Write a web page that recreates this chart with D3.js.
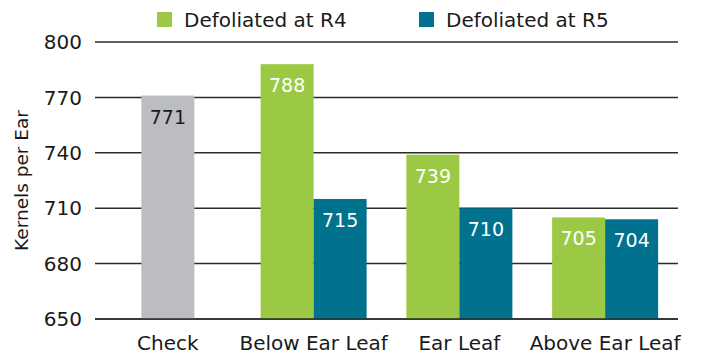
<!DOCTYPE html>
<html>
<head>
<meta charset="utf-8">
<script src="https://cdn.jsdelivr.net/npm/d3@7"></script>
<style>
  html, body { margin: 0; padding: 0; background: #fff; }
  svg { display: block; font-family: "DejaVu Sans", sans-serif; }
</style>
</head>
<body>
<svg id="chart" width="702" height="356"></svg>
<script>
// Kernels per ear by defoliation treatment
const categories = ["Check", "Below Ear Leaf", "Ear Leaf", "Above Ear Leaf"];
const seriesNames = ["Defoliated at R4", "Defoliated at R5"];
const checkValue = 771;
const r4Values = [null, 788, 739, 705];
const r5Values = [null, 715, 710, 704];
const yTicks = [650, 680, 710, 740, 770, 800];

const colors = { check: "#bcbdc0", r4: "#9bc944", r5: "#00728e" };
const textColor = "#1a1a1a";

const svg = d3.select("#chart");
const margin = { top: 42, right: 24, bottom: 37, left: 95 };
const width = 702 - margin.left - margin.right;
const height = 356 - margin.top - margin.bottom;

const g = svg.append("g").attr("transform", `translate(${margin.left},${margin.top})`);

const x = d3.scaleBand().domain(categories).range([0, width]).paddingInner(0).paddingOuter(0);
const y = d3.scaleLinear().domain([650, 800]).range([height, 0]);
const barW = 53;

// gridlines
g.selectAll(".grid").data(yTicks).join("line")
  .attr("x1", 0).attr("x2", width)
  .attr("y1", d => y(d)).attr("y2", d => y(d))
  .attr("stroke", "#2b2b2b").attr("stroke-width", 1.5);

// y tick labels
g.selectAll(".ytick").data(yTicks).join("text")
  .attr("x", -13).attr("y", d => y(d)).attr("dy", "0.36em")
  .attr("text-anchor", "end").attr("font-size", 20).attr("fill", textColor)
  .text(d => d);

// bar records: single check bar, then R4/R5 pairs
const bars = [];
categories.forEach((c, i) => {
  const cx = x(c) + x.bandwidth() / 2;
  if (i === 0) {
    bars.push({ x: cx - barW / 2, v: checkValue, color: colors.check, text: textColor });
  } else {
    bars.push({ x: cx - barW, v: r4Values[i], color: colors.r4, text: "#fff" });
    bars.push({ x: cx, v: r5Values[i], color: colors.r5, text: "#fff" });
  }
});

g.selectAll(".bar").data(bars).join("rect")
  .attr("x", d => d.x).attr("width", barW)
  .attr("y", d => y(d.v)).attr("height", d => y(650) - y(d.v))
  .attr("fill", d => d.color);

g.selectAll(".val").data(bars).join("text")
  .attr("x", d => d.x + barW / 2).attr("y", d => y(d.v) + 28)
  .attr("text-anchor", "middle").attr("font-size", 19)
  .attr("fill", d => d.text)
  .text(d => d.v);

// baseline
g.append("line").attr("x1", 0).attr("x2", width)
  .attr("y1", y(650)).attr("y2", y(650))
  .attr("stroke", "#2b2b2b").attr("stroke-width", 1.5);

// category labels
g.selectAll(".cat").data(categories).join("text")
  .attr("x", d => x(d) + x.bandwidth() / 2).attr("y", height + 31)
  .attr("text-anchor", "middle").attr("font-size", 20).attr("fill", textColor)
  .text(d => d);

// y axis title
svg.append("text")
  .attr("transform", `translate(28,${margin.top + height / 2}) rotate(-90)`)
  .attr("text-anchor", "middle").attr("font-size", 18.5).attr("fill", textColor)
  .text("Kernels per Ear");

// legend
const legendX = [157, 419];
const legend = svg.selectAll(".legend").data(seriesNames).join("g")
  .attr("transform", (d, i) => `translate(${legendX[i]},12)`);
legend.append("rect").attr("width", 15).attr("height", 15)
  .attr("fill", (d, i) => i === 0 ? colors.r4 : colors.r5);
legend.append("text").attr("x", 27).attr("y", 14.5)
  .attr("font-size", 20).attr("fill", textColor).text(d => d);
</script>
</body>
</html>
